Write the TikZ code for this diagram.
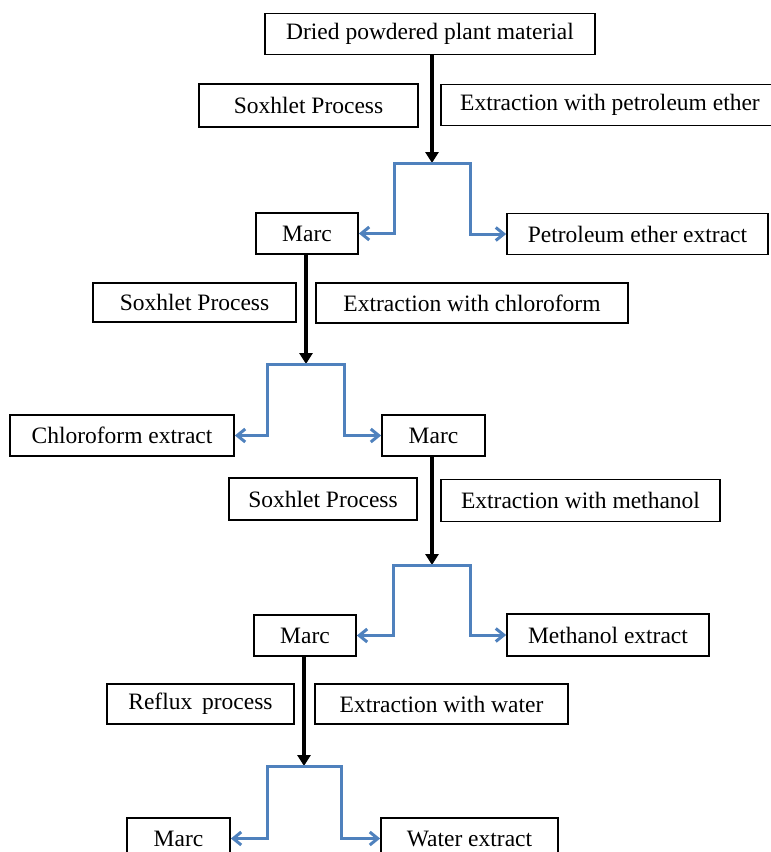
\documentclass[tikz,border=0pt]{standalone}
\usepackage{fontspec}
\setmainfont{Liberation Serif}
\usepackage{xcolor}
\definecolor{bleu}{RGB}{79,129,189}
\usetikzlibrary{arrows.meta}

\begin{document}
\begin{tikzpicture}[x=1pt,y=-1pt]

\tikzset{boite/.style={draw,line width=1.7pt,inner sep=0pt,minimum height=41pt,font=\fontsize{23.5}{26}\selectfont}} %style des cases
\tikzset{flechenoire/.style={line width=3.6pt,-{Triangle[length=11pt,width=13pt]}}}
\tikzset{flechebleue/.style={line width=3pt,bleu,-{Straight Barb[length=8pt,width=13pt]}}}

\useasboundingbox (0,0) rectangle (771,852);

%----------extraction 1 : ether de petrole------------
	\node[boite,minimum width=330pt] (plante) at (430,34) {Dried powdered plant material};
	\node[boite,minimum width=219pt,minimum height=43pt] (soxA) at (308.5,105.5) {Soxhlet Process};
	\node[boite,minimum width=338pt] (extA) at (610,105) {Extraction with petroleum ether};
	\node[boite,minimum width=102pt] (marcA) at (307,233.5) {Marc};
	\node[boite,minimum width=261pt] (ether) at (637.5,234) {Petroleum ether extract};

	\coordinate (sA) at (432,163);
	\draw [flechenoire] (plante.south -| sA) -- (sA);
	\draw [flechebleue] (sA) -- ++(-38,0) |- (marcA.east);
	\draw [flechebleue] (sA) -- ++(38,0) |- (ether.west);
%----------FIN extraction 1------------

%----------extraction 2 : chloroforme------------
	\node[boite,minimum width=203pt,minimum height=39pt] (soxB) at (194.5,302.5) {Soxhlet Process};
	\node[boite,minimum width=312pt,minimum height=40pt] (extB) at (472,303) {Extraction with chloroform};
	\node[boite,minimum width=224pt] (chloro) at (122,435.5) {Chloroform extract};
	\node[boite,minimum width=103pt] (marcB) at (433.5,435.5) {Marc};

	\coordinate (sB) at (306,364);
	\draw [flechenoire] (marcA.south -| sB) -- (sB);
	\draw [flechebleue] (sB) -- ++(-38.5,0) |- (chloro.east);
	\draw [flechebleue] (sB) -- ++(38.5,0) |- (marcB.west);
%----------FIN extraction 2------------

%----------extraction 3 : methanol------------
	\node[boite,minimum width=188pt,minimum height=42pt] (soxC) at (323,499) {Soxhlet Process};
	\node[boite,minimum width=279pt,minimum height=42pt] (extC) at (580.5,500.5) {Extraction with methanol};
	\node[boite,minimum width=102pt] (marcC) at (305,635.5) {Marc};
	\node[boite,minimum width=202pt,minimum height=42pt] (metha) at (608,635) {Methanol extract};

	\coordinate (sC) at (432,565);
	\draw [flechenoire] (marcB.south -| sC) -- (sC);
	\draw [flechebleue] (sC) -- ++(-38.5,0) |- (marcC.east);
	\draw [flechebleue] (sC) -- ++(38.5,0) |- (metha.west);
%----------FIN extraction 3------------

%----------extraction 4 : eau (reflux)------------
	\node[boite,minimum width=187pt,minimum height=40pt] (reflux) at (200.5,704) {Reflux\, process};
	\node[boite,minimum width=253pt,minimum height=40pt] (extD) at (441.5,704) {Extraction with water};
	\node[boite,minimum width=103pt] (marcD) at (178.5,838.5) {Marc};
	\node[boite,minimum width=177pt] (eau) at (469.5,838.5) {Water extract};

	\coordinate (sD) at (304,766);
	\draw [flechenoire] (marcC.south -| sD) -- (sD);
	\draw [flechebleue] (sD) -- ++(-37,0) |- (marcD.east);
	\draw [flechebleue] (sD) -- ++(37,0) |- (eau.west);
%----------FIN extraction 4------------

\end{tikzpicture}
\end{document}
